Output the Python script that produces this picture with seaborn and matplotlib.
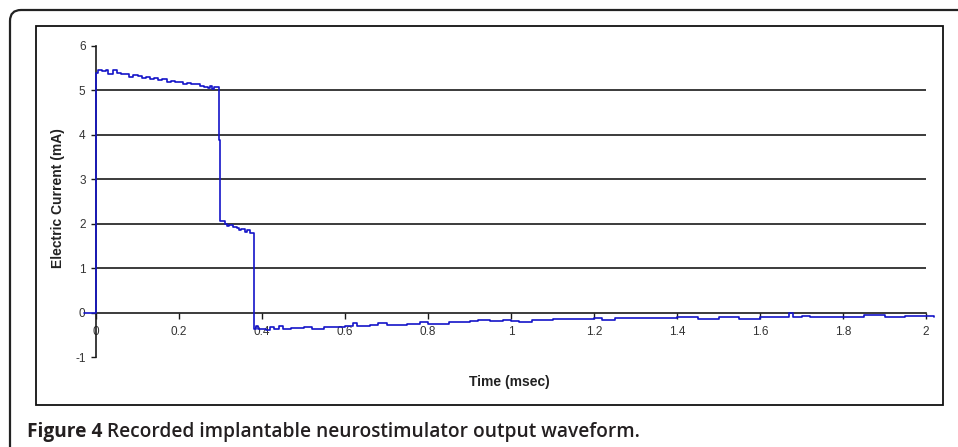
import matplotlib
matplotlib.use("Agg")
import matplotlib.pyplot as plt
from matplotlib.patches import FancyBboxPatch, Rectangle
from matplotlib.transforms import IdentityTransform
import seaborn as sns
import pandas as pd

# ---- data ----
time_ms = [-0.03, -0.001, 0.0, 0.005, 0.015, 0.025, 0.03, 0.04, 0.05, 0.06, 0.075, 0.08,
           0.09, 0.10, 0.11, 0.12, 0.13, 0.14, 0.15, 0.16, 0.17, 0.18, 0.19, 0.20, 0.21,
           0.22, 0.23, 0.24, 0.25, 0.26, 0.27, 0.275, 0.28, 0.285, 0.2955, 0.299,
           0.31, 0.315, 0.32, 0.33, 0.34, 0.345, 0.35, 0.36, 0.365, 0.37, 0.381,
           0.385, 0.39, 0.40, 0.41, 0.42, 0.43, 0.44, 0.45, 0.47, 0.50, 0.52, 0.55,
           0.60, 0.62, 0.63, 0.66, 0.68, 0.70, 0.75, 0.78, 0.80, 0.85, 0.90, 0.92,
           0.95, 0.98, 1.00, 1.02, 1.05, 1.10, 1.15, 1.20, 1.22, 1.25, 1.30, 1.40,
           1.45, 1.50, 1.55, 1.60, 1.67, 1.68, 1.70, 1.72, 1.80, 1.85, 1.90, 1.95,
           2.00, 2.02]
current_ma = [0.0, 0.0, 5.40, 5.46, 5.44, 5.47, 5.37, 5.45, 5.40, 5.38, 5.36, 5.30,
              5.35, 5.33, 5.28, 5.30, 5.26, 5.29, 5.24, 5.25, 5.20, 5.22, 5.18, 5.20, 5.15,
              5.17, 5.14, 5.15, 5.10, 5.08, 5.05, 5.10, 5.04, 5.08, 3.88, 2.05,
              2.00, 1.95, 1.98, 1.93, 1.90, 1.86, 1.88, 1.82, 1.85, 1.78, -0.38,
              -0.30, -0.38, -0.36, -0.40, -0.33, -0.38, -0.31, -0.37, -0.35, -0.33, -0.36, -0.33,
              -0.30, -0.24, -0.30, -0.29, -0.24, -0.28, -0.26, -0.22, -0.25, -0.22, -0.20, -0.17,
              -0.20, -0.16, -0.18, -0.22, -0.17, -0.15, -0.14, -0.12, -0.17, -0.12, -0.12, -0.11,
              -0.15, -0.10, -0.14, -0.10, -0.02, -0.10, -0.08, -0.10, -0.09, -0.06, -0.09, -0.07,
              -0.08, -0.09]
x_ticks = [0, 0.2, 0.4, 0.6, 0.8, 1, 1.2, 1.4, 1.6, 1.8, 2]
x_tick_labels = ["0", "0.2", "0.4", "0.6", "0.8", "1", "1.2", "1.4", "1.6", "1.8", "2"]
y_ticks = [-1, 0, 1, 2, 3, 4, 5, 6]
y_tick_labels = ["-1", "0", "1", "2", "3", "4", "5", "6"]
grid_levels = [1, 2, 3, 4, 5]

df = pd.DataFrame({"Time (msec)": time_ms, "Electric Current (mA)": current_ma})

sns.set_style("white")
plt.rcParams["font.family"] = ["Liberation Sans", "DejaVu Sans"]
plt.rcParams["axes.unicode_minus"] = False

W, H = 958, 447
fig = plt.figure(figsize=(W / 100, H / 100), dpi=100)


def fx(px):
    return px / W


def fy(py):
    return 1 - py / H


# outer rounded frame (display/pixel coords, y from bottom)
outer = FancyBboxPatch((10, H - 480), 1000, 470,
                       boxstyle="round,pad=0,rounding_size=11",
                       transform=IdentityTransform(), facecolor="none",
                       edgecolor="#222222", linewidth=1.6)
fig.patches.append(outer)
inner = Rectangle((fx(36), fy(405)), fx(943) - fx(36), fy(26) - fy(405),
                  transform=fig.transFigure, facecolor="none",
                  edgecolor="#111111", linewidth=1.3)
fig.patches.append(inner)

# axes: x=-0.04..2.04 -> px 79.4..942.6 ; y=-1..6 -> px 357..46
x0, x1 = -0.04, 2.04
pxl, pxr = 96 - 0.04 * 415, 96 + 2.04 * 415
ax = fig.add_axes([fx(pxl), fy(357), (pxr - pxl) / W, (357 - 46) / H])
ax.set_facecolor("none")

ax.hlines(grid_levels, 0, 2, colors="#1a1a1a", linewidth=1.2, zorder=1)

sns.lineplot(data=df, x="Time (msec)", y="Electric Current (mA)", ax=ax,
             drawstyle="steps-post", color="#1414c8", linewidth=1.2,
             estimator=None, sort=False, zorder=3)

ax.set_xlim(x0, x1)
ax.set_ylim(-1, 6)

for s in ["top", "right"]:
    ax.spines[s].set_visible(False)
ax.spines["left"].set_position(("data", 0))
ax.spines["bottom"].set_position(("data", 0))
ax.spines["left"].set_bounds(-1, 6)
ax.spines["bottom"].set_bounds(0, 2)
for s in ["left", "bottom"]:
    ax.spines[s].set_color("#1a1a1a")
    ax.spines[s].set_linewidth(1.2)

ax.set_xticks(x_ticks)
ax.set_xticklabels(x_tick_labels)
ax.set_yticks(y_ticks)
ax.set_yticklabels(y_tick_labels)
ax.tick_params(axis="x", direction="out", length=4, width=1, pad=6,
               labelsize=8.5, labelcolor="#333333", color="#1a1a1a", bottom=True)
ax.tick_params(axis="y", direction="out", length=3.5, width=1, pad=4,
               labelsize=8.5, labelcolor="#333333", color="#1a1a1a", left=True)

ax.set_xlabel("Time (msec)", fontsize=10, fontweight="bold", color="#222222")
ax.set_ylabel("Electric Current (mA)", fontsize=10, fontweight="bold", color="#222222")
ax.xaxis.set_label_coords((509 - pxl) / (pxr - pxl), (357 - 382) / 311)
ax.yaxis.set_label_coords((58 - pxl) / (pxr - pxl), (357 - 198) / 311)
ax.xaxis.label.set_va("center")
ax.yaxis.label.set_va("center")

# caption
cap_font = ["Open Sans", "DejaVu Sans"]
t1 = fig.text(fx(27), fy(437), "Figure 4", fontsize=13.8, fontweight="bold",
              family=cap_font, color="#231f20", va="baseline")
plt.annotate(" Recorded implantable neurostimulator output waveform.",
             xy=(1, 0), xycoords=t1, va="bottom", ha="left",
             fontsize=13.75, fontweight="semibold",
             family=cap_font, color="#231f20",
             annotation_clip=False)

fig.savefig("out.png", dpi=100)
